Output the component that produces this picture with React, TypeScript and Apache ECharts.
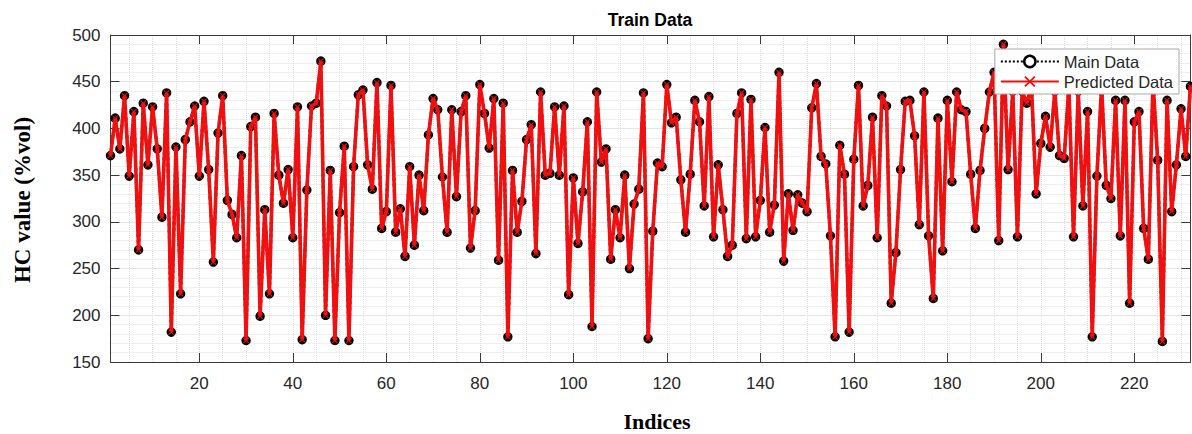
import React, { useEffect, useRef } from "react";
import * as echarts from "echarts";

// HC value (%vol) per index
const mainData = [
  371, 411, 378, 435, 349, 418, 270, 427, 361, 423,
  378, 305, 438, 182, 380, 223, 388, 407, 424, 349,
  429, 356, 257, 395, 435, 323, 308, 283, 371, 173,
  402, 412, 199, 313, 223, 416, 350, 320, 356, 283,
  423, 174, 334, 424, 427, 472, 200, 355, 173, 310,
  381, 173, 359, 436, 441, 361, 335, 449, 293, 311,
  446, 289, 314, 263, 359, 275, 350, 312, 393, 432,
  420, 348, 289, 420, 327, 418, 435, 272, 312, 447,
  416, 379, 432, 259, 427, 177, 355, 289, 322, 388,
  404, 266, 439, 350, 352, 423, 350, 424, 222, 347,
  277, 332, 407, 188, 439, 364, 378, 260, 313, 283,
  350, 250, 319, 335, 438, 175, 290, 363, 359, 447,
  406, 412, 345, 289, 351, 430, 407, 317, 434, 284,
  361, 313, 263, 275, 416, 438, 282, 431, 284, 323,
  401, 289, 318, 460, 258, 330, 291, 329, 320, 311,
  422, 448, 370, 362, 285, 177, 382, 351, 182, 367,
  446, 317, 339, 412, 283, 435, 424, 213, 267, 356,
  429, 430, 392, 297, 439, 285, 218, 411, 269, 430,
  343, 439, 420, 418, 351, 293, 355, 400, 439, 460,
  280, 490, 356, 440, 284, 440, 427, 445, 330, 384,
  413, 380, 440, 371, 368, 445, 284, 440, 317, 418,
  177, 349, 445, 339, 325, 430, 285, 430, 213, 407,
  418, 293, 260, 450, 366, 172, 430, 311, 361, 421,
  370, 445,
];

// The prediction overlaps the measured data in the picture
const predictedData = [...mainData];

const xTicks = [20, 40, 60, 80, 100, 120, 140, 160, 180, 200, 220];
const xMinorTicks = Array.from({ length: 46 }, (_, k) => 5 * (k + 1));
const yMin = 150;
const yMax = 500;
const yStep = 50;
const xMin = 1;
const xMax = 232;

const crossPath =
  "path://M0,1.2L1.2,0L5,3.8L8.8,0L10,1.2L6.2,5L10,8.8L8.8,10L5,6.2L1.2,10L0,8.8L3.8,5Z";

export default function App() {
  const ref = useRef<HTMLDivElement>(null);

  useEffect(() => {
    if (!ref.current) return;
    const chart = echarts.init(ref.current, null, { renderer: "svg" });
    const mainPts = mainData.map((v, k) => [k + 1, v]);
    const predPts = predictedData.map((v, k) => [k + 1, v]);
    const axisColor = "#3a3a3a";
    const red = "#f01010";
    const labelFont = { fontFamily: "Liberation Sans", fontSize: 17, color: "#262626" };

    const option = {
      animation: false,
      backgroundColor: "#ffffff",
      grid: { left: 110.5, right: 1.6, top: 35, bottom: 72, containLabel: false },
      legend: {
        right: 13,
        top: 49,
        orient: "vertical",
        padding: [4, 6, 4, 5],
        itemGap: 3,
        itemWidth: 58,
        itemHeight: 14,
        backgroundColor: "#ffffff",
        borderColor: "#a8a8a8",
        borderWidth: 1,
        borderRadius: 0,
        selectedMode: false,
        z: 20,
        textStyle: { fontFamily: "Liberation Sans", fontSize: 16.5, color: "#262626" },
        data: [
          {
            name: "Main Data",
            itemStyle: { color: "#ffffff", borderColor: "#000000", borderWidth: 2.5 },
          },
          { name: "Predicted Data" },
        ],
      },
      xAxis: [
        {
          type: "value",
          min: xMin,
          max: xMax,
          position: "bottom",
          axisLine: { show: true, onZero: false, lineStyle: { color: axisColor, width: 1 } },
          axisTick: { show: true, inside: true, length: 9, customValues: xTicks, lineStyle: { color: axisColor } },
          axisLabel: { show: true, margin: 13, customValues: xTicks, ...labelFont },
          splitLine: { show: true, lineStyle: { color: "#cccccc", type: "dotted", width: 1 } },
        },
        {
          type: "value",
          min: xMin,
          max: xMax,
          position: "top",
          axisLine: { show: true, onZero: false, lineStyle: { color: axisColor, width: 1 } },
          axisTick: { show: true, inside: true, length: 9, customValues: xTicks, lineStyle: { color: axisColor } },
          axisLabel: { show: false },
          splitLine: { show: false },
        },
        {
          type: "value",
          min: xMin,
          max: xMax,
          position: "bottom",
          axisLine: { show: false },
          axisTick: { show: false, customValues: xMinorTicks },
          axisLabel: { show: false },
          splitLine: { show: true, lineStyle: { color: "#dedede", type: "dotted", width: 1 } },
        },
      ],
      yAxis: [
        {
          type: "value",
          min: yMin,
          max: yMax,
          interval: yStep,
          position: "left",
          axisLine: { show: true, onZero: false, lineStyle: { color: axisColor, width: 1 } },
          axisTick: { show: true, inside: true, length: 9, lineStyle: { color: axisColor } },
          axisLabel: { show: true, margin: 10, ...labelFont },
          splitLine: { show: true, lineStyle: { color: "#cccccc", type: "dotted", width: 1 } },
          minorTick: { show: false, splitNumber: 5 },
          minorSplitLine: { show: true, lineStyle: { color: "#dedede", type: "dotted", width: 1 } },
        },
        {
          type: "value",
          min: yMin,
          max: yMax,
          interval: yStep,
          position: "right",
          axisLine: { show: true, onZero: false, lineStyle: { color: axisColor, width: 1 } },
          axisTick: { show: true, inside: true, length: 9, lineStyle: { color: axisColor } },
          axisLabel: { show: false },
          splitLine: { show: false },
        },
      ],
      series: [
        {
          name: "Main Data",
          type: "line",
          xAxisIndex: 0,
          yAxisIndex: 0,
          data: mainPts,
          showSymbol: true,
          showAllSymbol: true,
          symbol: "circle",
          symbolSize: 8,
          lineStyle: { color: "#000000", width: 3, type: "dotted" },
          itemStyle: { color: "#000000", borderColor: "#000000", borderWidth: 1.5 },
          emphasis: { disabled: true },
          z: 3,
        },
        {
          name: "Predicted Data",
          type: "line",
          xAxisIndex: 0,
          yAxisIndex: 0,
          data: predPts,
          showSymbol: true,
          showAllSymbol: true,
          symbol: crossPath,
          symbolSize: 6,
          lineStyle: { color: red, width: 3.6 },
          itemStyle: { color: red },
          emphasis: { disabled: true },
          z: 4,
        },
      ],
      graphic: [
        {
          type: "text",
          x: 650,
          y: 20,
          style: {
            text: "Train Data",
            textAlign: "center",
            textVerticalAlign: "middle",
            font: 'bold 17.5px "Liberation Sans"',
            fill: "#000000",
          },
        },
        {
          type: "text",
          x: 22,
          y: 200,
          rotation: Math.PI / 2,
          style: {
            text: "HC value (%vol)",
            textAlign: "center",
            textVerticalAlign: "middle",
            font: 'bold 23px "Liberation Serif"',
            fill: "#000000",
          },
        },
        {
          type: "text",
          x: 657,
          y: 421,
          style: {
            text: "Indices",
            textAlign: "center",
            textVerticalAlign: "middle",
            font: 'bold 22px "Liberation Serif"',
            fill: "#000000",
          },
        },
      ],
    };

    chart.setOption(option as any);
    return () => chart.dispose();
  }, []);

  return (
    <div
      ref={ref}
      style={{ position: "absolute", left: 0, top: 0, width: 1192, height: 434 }}
    />
  );
}
